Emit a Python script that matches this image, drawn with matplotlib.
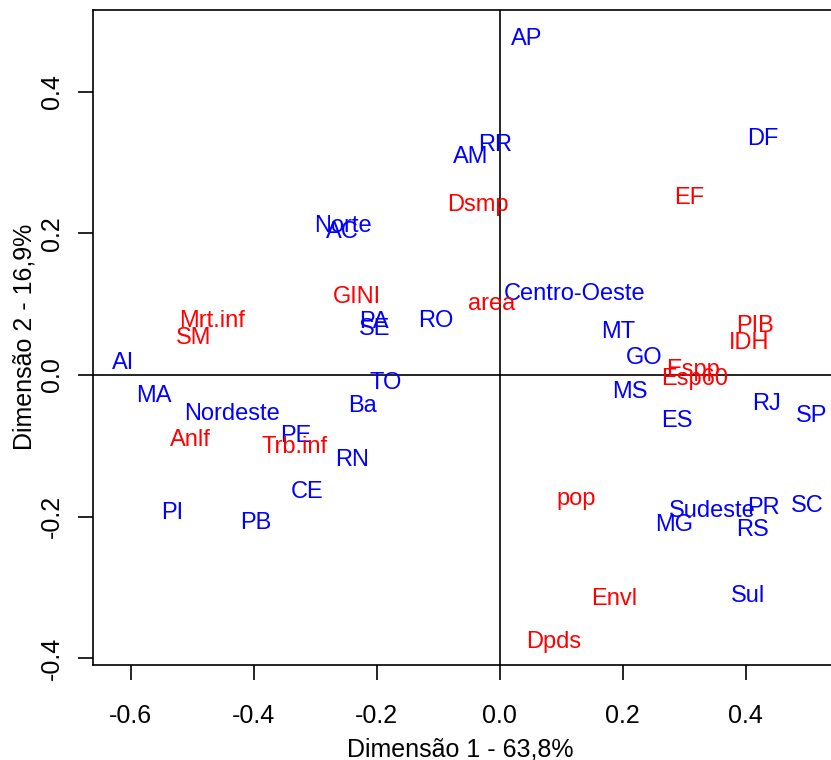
import matplotlib
matplotlib.use('Agg')
import matplotlib.pyplot as plt

plt.rcParams['font.family'] = ['Liberation Sans', 'DejaVu Sans']

# Row points (states and regions) - blue
row_labels = ['AP', 'RR', 'AM', 'DF', 'Norte', 'AC', 'Centro-Oeste', 'PA', 'SE', 'RO',
              'MT', 'GO', 'AI', 'TO', 'MA', 'MS', 'RJ', 'Ba', 'SP', 'Nordeste',
              'ES', 'PE', 'RN', 'CE', 'SC', 'PR', 'Sudeste', 'PI', 'PB', 'MG',
              'RS', 'Sul']
row_x = [0.043, -0.008, -0.047, 0.428, -0.255, -0.256, 0.122, -0.204, -0.204, -0.104,
         0.192, 0.235, -0.613, -0.185, -0.563, 0.212, 0.434, -0.224, 0.507, -0.436,
         0.288, -0.332, -0.240, -0.314, 0.499, 0.428, 0.345, -0.532, -0.396, 0.283,
         0.410, 0.404]
row_y = [0.477, 0.328, 0.311, 0.337, 0.213, 0.205, 0.117, 0.078, 0.068, 0.079,
         0.064, 0.028, 0.020, -0.008, -0.027, -0.021, -0.037, -0.040, -0.055, -0.052,
         -0.061, -0.083, -0.117, -0.162, -0.182, -0.184, -0.189, -0.191, -0.205, -0.208,
         -0.215, -0.308]

# Column points (variables) - red
col_labels = ['Dsmp', 'EF', 'GINI', 'area', 'Mrt.inf', 'SM', 'PIB', 'IDH', 'Espp', 'Esp60',
              'Anlf', 'Trb.inf', 'pop', 'Envl', 'Dpds']
col_x = [-0.035, 0.308, -0.233, -0.014, -0.467, -0.498, 0.415, 0.405, 0.314, 0.316,
         -0.503, -0.334, 0.124, 0.186, 0.087]
col_y = [0.244, 0.253, 0.114, 0.103, 0.080, 0.056, 0.073, 0.049, 0.010, -0.003,
         -0.089, -0.099, -0.172, -0.313, -0.374]

xticks = [-0.6, -0.4, -0.2, 0.0, 0.2, 0.4]
yticks = [-0.4, -0.2, 0.0, 0.2, 0.4]

fig = plt.figure(figsize=(8.31, 7.6), dpi=100)
# plot region runs past the right edge of the picture (cropped original)
ax = fig.add_axes([93.3 / 831, 1 - 665 / 760, (844.3 - 93.3) / 831, (665 - 10) / 760])
ax.set_xlim(-0.6608, 0.56)
ax.set_ylim(-0.4094, 0.5153)

ax.axhline(0, color='black', lw=1.2)
ax.axvline(0, color='black', lw=1.2)

# labels centred on the point like R's text(): cap height centred on y
for lab, x, y in zip(row_labels, row_x, row_y):
    ax.annotate(lab, (x, y), xytext=(0, -6), textcoords='offset points',
                color='blue', fontsize=17, ha='center', va='baseline')
for lab, x, y in zip(col_labels, col_x, col_y):
    ax.annotate(lab, (x, y), xytext=(0, -6), textcoords='offset points',
                color='red', fontsize=17, ha='center', va='baseline')

ax.set_xticks(xticks)
ax.set_xticklabels(['%.1f' % v for v in xticks])
ax.set_yticks(yticks)
ax.set_yticklabels(['%.1f' % v for v in yticks], rotation=90, va='center')
ax.tick_params(axis='both', length=11, width=1.2, labelsize=18)
ax.tick_params(axis='x', pad=17)
ax.tick_params(axis='y', pad=10)
ax.spines['right'].set_visible(False)
for s in ax.spines.values():
    s.set_linewidth(1.2)

fig.text(460 / 831, 1 - 749 / 760, 'Dimensão 1 - 63,8%', fontsize=18, ha='center', va='center')
fig.text(25 / 831, 1 - 337 / 760, 'Dimensão 2 - 16,9%', fontsize=18, ha='center', va='center',
         rotation=90)

fig.savefig('out.png', dpi=100)
